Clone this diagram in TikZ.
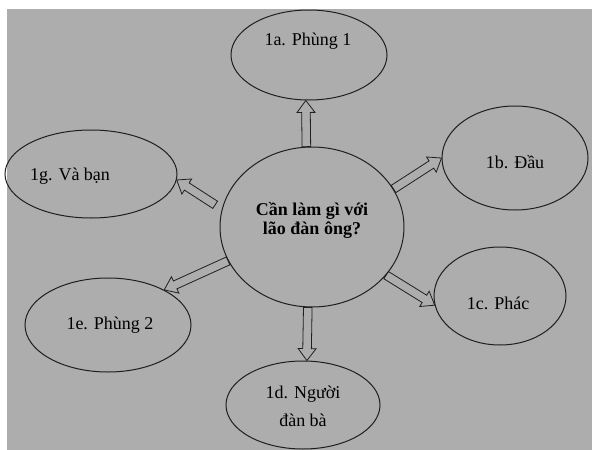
\documentclass[tikz,border=0pt]{standalone}
\usepackage{fontspec}
\setmainfont{Liberation Serif}
\usetikzlibrary{calc,shapes.geometric}
\definecolor{bggray}{gray}{0.68}
\definecolor{ink}{gray}{0.12}
\begin{document}
\begin{tikzpicture}[x=1pt,y=-1pt,
  bub/.style={draw=ink, line width=1pt, ellipse, inner sep=0pt},
  lbl/.style={font=\fontsize{18}{28}\selectfont, text=black, align=center, inner sep=0pt},
  blockarrow/.style={draw=ink, line width=0.8pt, line join=miter,
    to path={let \p1=(\tikztostart), \p2=(\tikztotarget),
      \n1={atan2(\y2-\y1,\x2-\x1)}, \n2={veclen(\x2-\x1,\y2-\y1)} in
      [shift={(\p1)}, rotate=\n1]
      (0,-4.3) -- (\n2-12,-4.3) -- (\n2-12,-9) -- (\n2,0) -- (\n2-12,9)
      -- (\n2-12,4.3) -- (0,4.3) -- cycle}}]
\fill[white] (0,0) rectangle (592,450);
\fill[bggray] (7,9) rectangle (592,450);
\useasboundingbox (0,0) rectangle (592,450);

\node[bub, minimum width=184pt, minimum height=160pt] (c) at (312,227) {};
\node[bub, minimum width=156pt, minimum height=90pt] (a) at (309,55) {};
\node[bub, minimum width=146pt, minimum height=104pt] (b) at (515,158) {};
\node[bub, minimum width=132pt, minimum height=98pt] (cc) at (500,296) {};
\node[bub, minimum width=154pt, minimum height=88pt] (d) at (303,405) {};
\node[bub, minimum width=166pt, minimum height=94pt] (e) at (108,325) {};
\node[bub, minimum width=172pt, minimum height=88pt] (g) at (91,174) {};

\node[lbl, font=\fontsize{18}{19}\selectfont\bfseries] (tc) at (312,220) {Cần làm gì với\\lão đàn ông?};
\node[lbl] (ta) at (308,41) {1a. Phùng 1};
\node[lbl] (tb) at (515,162) {1b. Đầu};
\node[lbl] (tcc) at (498,303) {1c. Phác};
\node[lbl] (td) at (303,406) {1d. Người\\đàn bà};
\node[lbl] (te) at (110,325) {1e. Phùng 2};
\node[lbl] (tg) at (70,176) {1g. Và bạn};

\coordinate (g0) at ([shift={(-9,3)}]c.164);
\draw[blockarrow] (c.94) to (a.266);
\draw[blockarrow] (c.25) to (b.180);
\draw[blockarrow] (c.-33) to (cc.188);
\draw[blockarrow] (c.267) to (d.85);
\draw[blockarrow] (c.202) to (e.32);
\draw[blockarrow] (g0) to (g.-4);
\end{tikzpicture}
\end{document}
